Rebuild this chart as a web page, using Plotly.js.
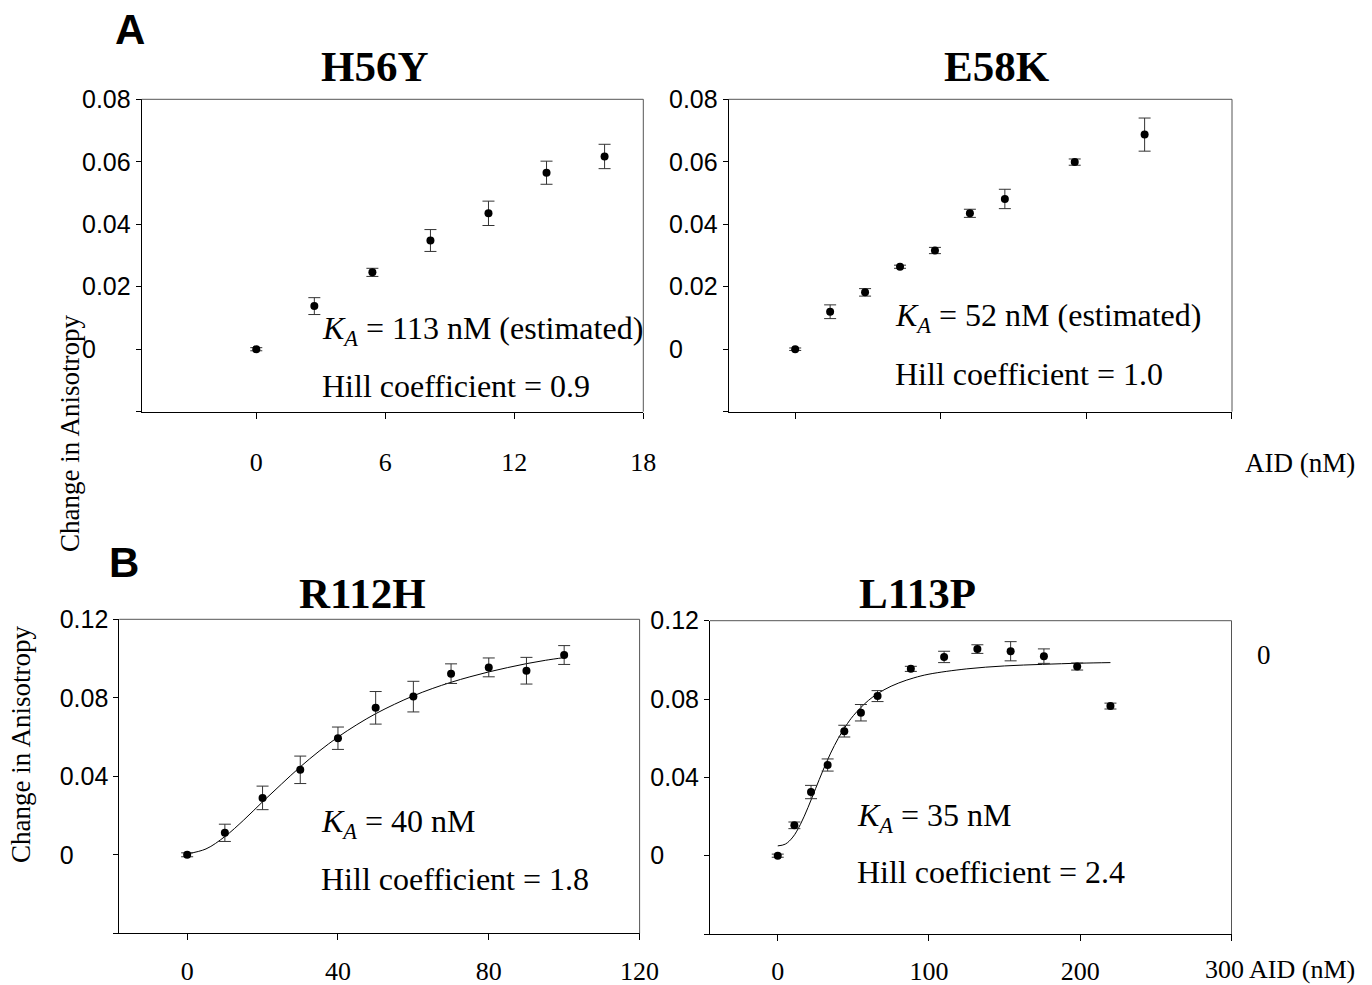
<!DOCTYPE html>
<html><head><meta charset="utf-8">
<script src="https://cdn.plot.ly/plotly-3.0.1.min.js"></script>
<style>html,body{margin:0;padding:0;background:#fff}#chart{width:1372px;height:985px}</style>
</head><body><div id="chart"></div>
<script>
// ---------------- data ----------------
const titles = ['H56Y', 'E58K', 'R112H', 'L113P'];
const panelLetters = ['A', 'B'];
const yAxisTitle = 'Change in Anisotropy';
const xAxisTitle = 'AID (nM)';

const h56y_x   = [0, 2.7, 5.4, 8.1, 10.8, 13.5, 16.2];
const h56y_y   = [0.0, 0.0138, 0.0246, 0.0348, 0.0435, 0.0565, 0.0617];
const h56y_err = [0.0005, 0.0027, 0.0013, 0.0035, 0.0039, 0.0037, 0.0039];

const e58k_x   = [0, 1.44, 2.88, 4.32, 5.76, 7.2, 8.64, 11.52, 14.4];
const e58k_y   = [0.0, 0.0120, 0.0182, 0.0264, 0.0316, 0.0435, 0.0481, 0.0599, 0.0687];
const e58k_err = [0.0004, 0.0022, 0.0012, 0.0005, 0.0010, 0.0013, 0.0031, 0.0010, 0.0053];

const r112h_x   = [0, 10, 20, 30, 40, 50, 60, 70, 80, 90, 100];
const r112h_y   = [0.0, 0.0112, 0.0290, 0.0433, 0.0594, 0.0749, 0.0806, 0.0923, 0.0955, 0.0938, 0.1018];
const r112h_err = [0.0010, 0.0044, 0.0060, 0.0070, 0.0057, 0.0083, 0.0078, 0.0050, 0.0048, 0.0068, 0.0048];
const r112h_fit_x = [0, 5, 10, 15, 20, 25, 30, 35, 40, 45, 50, 55, 60, 65, 70, 75, 80, 85, 90, 95, 100];
const r112h_fit_y = [0.0005, 0.003, 0.0093, 0.0177, 0.027, 0.036, 0.0448, 0.0528, 0.060, 0.0663, 0.0719, 0.0767, 0.081, 0.0847, 0.0879, 0.0907, 0.0932, 0.0954, 0.0974, 0.0991, 0.1005];

const l113p_x   = [0, 11, 22, 33, 44, 55, 66, 88, 110, 132, 154, 176, 198, 220];
const l113p_y   = [0.0, 0.0155, 0.0325, 0.0463, 0.0636, 0.0730, 0.0815, 0.0954, 0.1015, 0.1055, 0.1044, 0.1019, 0.0966, 0.0764];
const l113p_err = [0.0008, 0.0017, 0.0034, 0.0031, 0.0030, 0.0042, 0.0028, 0.0013, 0.0029, 0.0022, 0.0049, 0.0037, 0.0018, 0.0015];
const l113p_fit_x = [0, 5, 10, 15, 20, 25, 30, 35, 40, 45, 50, 60, 70, 80, 90, 100, 125, 150, 175, 200, 220];
const l113p_fit_y = [0.005, 0.0059, 0.0095, 0.016, 0.0246, 0.0342, 0.0437, 0.0524, 0.0599, 0.0662, 0.0715, 0.0793, 0.0846, 0.0882, 0.0908, 0.0927, 0.0954, 0.0969, 0.0977, 0.0983, 0.0986];

const kaTexts   = ['113 nM (estimated)', '52 nM (estimated)', '40 nM', '35 nM'];
const hillTexts = ['0.9', '1.0', '1.8', '2.4'];

const xTickValsA = [0, 6, 12, 18];
const xTickTextA = ['0', '6', '12', '18'];
const yTickValsA = [-0.02, 0, 0.02, 0.04, 0.06, 0.08];
const yTickTextA = ['', '0', '0.02', '0.04', '0.06', '0.08'];
const xTickValsR = [0, 40, 80, 120];
const xTickTextR = ['0', '40', '80', '120'];
const xTickValsL = [0, 100, 200, 300];
const xTickTextL = ['0', '100', '200', '300'];
const yTickValsB = [-0.04, 0, 0.04, 0.08, 0.12];
const yTickTextB = ['', '0', '0.04', '0.08', '0.12'];
const strayLabel = '0';

// ---------------- layout helpers ----------------
const W = 1372, H = 985;
const PX = v => v / W;
const PY = v => 1 - v / H;
const SERIF = 'Liberation Serif, Times New Roman, serif';
const SANS = 'Liberation Sans, Arial, sans-serif';

// pad "0" with no-break spaces so labels are left-aligned like the original
function padLeftAligned(labels) {
  const digits = s => (s.match(/[0-9]/g) || []).length;
  const dots = s => (s.match(/\./g) || []).length;
  let ref = labels.reduce((a, b) => (b.length > a.length ? b : a), '');
  return labels.map(s => s === '' ? '' : s + '\u00A0'.repeat(2 * (digits(ref) - digits(s)) + (dots(ref) - dots(s))));
}

const dom = {
  tl: { x: [141.7, 643.3], y: [99.3, 411.7] },
  tr: { x: [728.7, 1232.0], y: [99.3, 411.7] },
  bl: { x: [119.3, 639.6], y: [619.3, 933.3] },
  br: { x: [710.0, 1231.5], y: [620.7, 934.0] }
};
const dx = d => [PX(d.x[0]), PX(d.x[1])];
const dy = d => [PY(d.y[1]), PY(d.y[0])];

const baseAxis = {
  showgrid: false, zeroline: false, showline: true, linecolor: '#000', linewidth: 1,
  ticks: 'outside', ticklen: 5, tickcolor: '#000', tickwidth: 1, tickmode: 'array',
  fixedrange: true
};
function xAx(d, range, vals, text, show, anchor, standoff) {
  return Object.assign({}, baseAxis, {
    domain: dx(d), range: range, tickvals: vals, ticktext: text, anchor: anchor,
    showticklabels: show, ticklen: 6, ticklabelstandoff: standoff,
    tickfont: { family: SERIF, size: 26, color: '#000' }
  });
}
function yAx(d, range, vals, text, anchor) {
  return Object.assign({}, baseAxis, {
    domain: dy(d), range: range, tickvals: vals, ticktext: padLeftAligned(text), anchor: anchor,
    tickfont: { family: SANS, size: 25, color: '#000' }
  });
}

function pts(x, y, err, xa, ya) {
  return {
    x: x, y: y, xaxis: xa, yaxis: ya, type: 'scatter', mode: 'markers',
    marker: { color: '#000', size: 8 },
    error_y: { type: 'data', array: err, visible: true, color: '#333', thickness: 1, width: 6 },
    hoverinfo: 'skip'
  };
}
function fit(x, y, xa, ya) {
  return { x: x, y: y, xaxis: xa, yaxis: ya, type: 'scatter', mode: 'lines',
    line: { color: '#000', width: 1, shape: 'spline' }, hoverinfo: 'skip' };
}

const data = [
  pts(h56y_x, h56y_y, h56y_err, 'x', 'y'),
  pts(e58k_x, e58k_y, e58k_err, 'x2', 'y2'),
  fit(r112h_fit_x, r112h_fit_y, 'x3', 'y3'),
  pts(r112h_x, r112h_y, r112h_err, 'x3', 'y3'),
  fit(l113p_fit_x, l113p_fit_y, 'x4', 'y4'),
  pts(l113p_x, l113p_y, l113p_err, 'x4', 'y4')
];

function ann(text, x, y, font, extra) {
  return Object.assign({ text: text, x: PX(x), y: PY(y), xref: 'paper', yref: 'paper',
    showarrow: false, xanchor: 'center', yanchor: 'middle', font: font }, extra || {});
}
const titleFont = { family: SERIF, size: 43, color: '#000', weight: 'bold' };
const annFont = { family: SERIF, size: 32, color: '#000' };
const labFont = { family: SERIF, size: 27, color: '#000' };
const labFontSmall = { family: SERIF, size: 26, color: '#000' };
const yTitleFont = { family: SERIF, size: 27, color: '#000' };
const letterFont = { family: SANS, size: 42, color: '#000', weight: 'bold' };
const kaPrefix = '<i>K</i><sub><i>A</i></sub> = ';
const hillPrefix = 'Hill coefficient = ';

const annotations = [
  ann('<b>' + panelLetters[0] + '</b>', 130, 30, letterFont),
  ann('<b>' + panelLetters[1] + '</b>', 124, 562, letterFont),
  ann('<b>' + titles[0] + '</b>', 375, 66, titleFont),
  ann('<b>' + titles[1] + '</b>', 997, 66, titleFont),
  ann('<b>' + titles[2] + '</b>', 362, 593, titleFont),
  ann('<b>' + titles[3] + '</b>', 917, 593, titleFont),
  ann(kaPrefix + kaTexts[0], 320, 331, annFont, { xanchor: 'left' }),
  ann(hillPrefix + hillTexts[0], 320, 386, annFont, { xanchor: 'left' }),
  ann(kaPrefix + kaTexts[1], 893, 318, annFont, { xanchor: 'left' }),
  ann(hillPrefix + hillTexts[1], 893, 374, annFont, { xanchor: 'left' }),
  ann(kaPrefix + kaTexts[2], 319, 823, annFont, { xanchor: 'left' }),
  ann(hillPrefix + hillTexts[2], 319, 879, annFont, { xanchor: 'left' }),
  ann(kaPrefix + kaTexts[3], 855, 817, annFont, { xanchor: 'left' }),
  ann(hillPrefix + hillTexts[3], 855, 872, annFont, { xanchor: 'left' }),
  ann(yAxisTitle, 70, 434, yTitleFont, { textangle: -90 }),
  ann(yAxisTitle, 21, 745, yTitleFont, { textangle: -90 }),
  ann(xAxisTitle, 1357, 463, labFont, { xanchor: 'right' }),
  ann(xTickTextL[3] + ' ' + xAxisTitle, 1357, 969, labFontSmall, { xanchor: 'right' }),
  ann(strayLabel, 1264, 655, labFont)
];

function border(d) {
  const c = { color: '#555', width: 1 };
  return [
    { type: 'line', xref: 'paper', yref: 'paper', x0: PX(d.x[0]), x1: PX(d.x[1]), y0: PY(d.y[0]), y1: PY(d.y[0]), line: c },
    { type: 'line', xref: 'paper', yref: 'paper', x0: PX(d.x[1]), x1: PX(d.x[1]), y0: PY(d.y[0]), y1: PY(d.y[1]), line: c }
  ];
}

const layout = {
  width: W, height: H, margin: { l: 0, r: 0, t: 0, b: 0 },
  paper_bgcolor: '#fff', plot_bgcolor: 'rgba(0,0,0,0)',
  showlegend: false, hovermode: false,
  xaxis:  xAx(dom.tl, [-5.33, 18.001], xTickValsA, xTickTextA, true, 'y', 21),
  yaxis:  yAx(dom.tl, [-0.02, 0.08], yTickValsA, yTickTextA, 'x'),
  xaxis2: xAx(dom.tr, [-2.74, 18.001], xTickValsA, xTickTextA, false, 'y2', 21),
  yaxis2: yAx(dom.tr, [-0.02, 0.08], yTickValsA, yTickTextA, 'x2'),
  xaxis3: xAx(dom.bl, [-18, 120.01], xTickValsR, xTickTextR, true, 'y3', 8),
  yaxis3: yAx(dom.bl, [-0.04, 0.12], yTickValsB, yTickTextB, 'x3'),
  xaxis4: xAx(dom.br, [-44.8, 300.05], xTickValsL, xTickTextL.slice(0, 3).concat(['']), true, 'y4', 8),
  yaxis4: yAx(dom.br, [-0.04, 0.12], yTickValsB, yTickTextB, 'x4'),
  annotations: annotations,
  shapes: [].concat(border(dom.tl), border(dom.tr), border(dom.bl), border(dom.br))
};

Plotly.newPlot('chart', data, layout, { staticPlot: true, displayModeBar: false });
</script>
</body></html>
